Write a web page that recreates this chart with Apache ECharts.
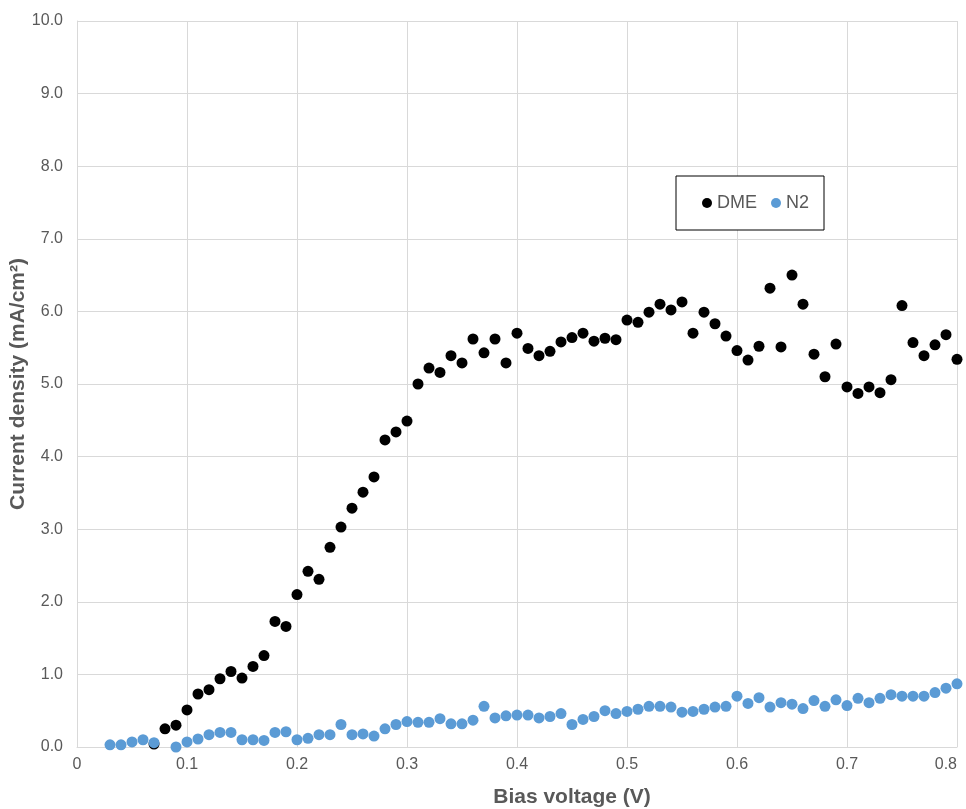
<!DOCTYPE html>
<html>
<head>
<meta charset="utf-8">
<script src="https://cdn.jsdelivr.net/npm/echarts@6/dist/echarts.min.js"></script>
<style>
  html, body { margin: 0; padding: 0; background: #fff; }
  #chart { width: 966px; height: 809px; }
</style>
</head>
<body>
<div id="chart"></div>
<script>
// Bias voltage (V) for each measurement
const voltageDME = [0.07, 0.08, 0.09, 0.10, 0.11, 0.12, 0.13, 0.14, 0.15, 0.16, 0.17, 0.18, 0.19,
  0.20, 0.21, 0.22, 0.23, 0.24, 0.25, 0.26, 0.27, 0.28, 0.29, 0.30, 0.31, 0.32, 0.33, 0.34, 0.35,
  0.36, 0.37, 0.38, 0.39, 0.40, 0.41, 0.42, 0.43, 0.44, 0.45, 0.46, 0.47, 0.48, 0.49, 0.50, 0.51,
  0.52, 0.53, 0.54, 0.55, 0.56, 0.57, 0.58, 0.59, 0.60, 0.61, 0.62, 0.63, 0.64, 0.65, 0.66, 0.67,
  0.68, 0.69, 0.70, 0.71, 0.72, 0.73, 0.74, 0.75, 0.76, 0.77, 0.78, 0.79, 0.80];
// Current density (mA/cm²) with DME
const currentDME = [0.04, 0.25, 0.30, 0.51, 0.73, 0.79, 0.94, 1.04, 0.95, 1.11, 1.26, 1.73, 1.66,
  2.10, 2.42, 2.31, 2.75, 3.03, 3.29, 3.51, 3.72, 4.23, 4.34, 4.49, 5.00, 5.22, 5.16, 5.39, 5.29,
  5.62, 5.43, 5.62, 5.29, 5.70, 5.49, 5.39, 5.45, 5.58, 5.64, 5.70, 5.59, 5.63, 5.61, 5.88, 5.85,
  5.99, 6.10, 6.02, 6.13, 5.70, 5.99, 5.83, 5.66, 5.46, 5.33, 5.52, 6.32, 5.51, 6.50, 6.10, 5.41,
  5.10, 5.55, 4.96, 4.87, 4.96, 4.88, 5.06, 6.08, 5.57, 5.39, 5.54, 5.68, 5.34];

const voltageN2 = [0.03, 0.04, 0.05, 0.06, 0.07, 0.09, 0.10, 0.11, 0.12, 0.13, 0.14, 0.15, 0.16,
  0.17, 0.18, 0.19, 0.20, 0.21, 0.22, 0.23, 0.24, 0.25, 0.26, 0.27, 0.28, 0.29, 0.30, 0.31, 0.32,
  0.33, 0.34, 0.35, 0.36, 0.37, 0.38, 0.39, 0.40, 0.41, 0.42, 0.43, 0.44, 0.45, 0.46, 0.47, 0.48,
  0.49, 0.50, 0.51, 0.52, 0.53, 0.54, 0.55, 0.56, 0.57, 0.58, 0.59, 0.60, 0.61, 0.62, 0.63, 0.64,
  0.65, 0.66, 0.67, 0.68, 0.69, 0.70, 0.71, 0.72, 0.73, 0.74, 0.75, 0.76, 0.77, 0.78, 0.79, 0.80];
// Current density (mA/cm²) with N2
const currentN2 = [0.03, 0.03, 0.07, 0.10, 0.06, 0.00, 0.07, 0.11, 0.17, 0.20, 0.20, 0.10, 0.10,
  0.09, 0.20, 0.21, 0.10, 0.12, 0.17, 0.17, 0.31, 0.17, 0.18, 0.15, 0.25, 0.31, 0.35, 0.34, 0.34,
  0.39, 0.32, 0.32, 0.37, 0.56, 0.40, 0.43, 0.44, 0.44, 0.40, 0.42, 0.46, 0.31, 0.38, 0.42, 0.50,
  0.46, 0.49, 0.52, 0.56, 0.56, 0.55, 0.48, 0.49, 0.52, 0.55, 0.56, 0.70, 0.60, 0.68, 0.55, 0.61,
  0.59, 0.53, 0.64, 0.56, 0.65, 0.57, 0.67, 0.61, 0.67, 0.72, 0.70, 0.70, 0.70, 0.75, 0.81, 0.87];

const seriesNames = ['DME', 'N2'];
const xTitle = 'Bias voltage (V)';
const yTitle = 'Current density (mA/cm²)';

const pairs = (xs, ys) => xs.map((x, i) => [x, ys[i]]);

const textGrey = '#595959';
const gridGrey = '#d9d9d9';
const mainFont = '"Liberation Sans", Arial, sans-serif';

const chart = echarts.init(document.getElementById('chart'));
chart.setOption({
  animation: false,
  backgroundColor: '#ffffff',
  textStyle: { fontFamily: mainFont },
  grid: { left: 77, right: 9, top: 21, bottom: 62, containLabel: false, outerBoundsMode: 'none' },
  legend: {
    data: seriesNames,
    left: 676,
    top: 176,
    orient: 'horizontal',
    icon: 'circle',
    itemWidth: 10,
    itemHeight: 10,
    itemGap: 14,
    padding: [18, 15, 18, 26],
    backgroundColor: '#ffffff',
    borderColor: '#000000',
    borderWidth: 1,
    textStyle: { color: textGrey, fontSize: 18, fontFamily: mainFont }
  },
  xAxis: {
    type: 'value',
    min: 0,
    max: 0.8,
    interval: 0.1,
    name: xTitle,
    nameLocation: 'middle',
    nameGap: 40,
    nameMoveOverlap: false,
    nameTextStyle: {
      color: textGrey, fontSize: 21, fontWeight: 'bold', fontFamily: mainFont,
      padding: [0, 0, 0, 110]
    },
    axisLine: { show: true, lineStyle: { color: gridGrey, width: 1 } },
    axisTick: { show: false },
    axisLabel: {
      color: textGrey, fontSize: 16, fontFamily: mainFont, margin: 10,
      alignMaxLabel: 'right',
      formatter: v => (v === 0 ? '0' : String(+v.toFixed(1)))
    },
    splitLine: { show: true, lineStyle: { color: gridGrey, width: 1 } }
  },
  yAxis: {
    type: 'value',
    min: 0,
    max: 10,
    interval: 1,
    name: yTitle,
    nameLocation: 'middle',
    nameGap: 48,
    nameRotate: 90,
    nameMoveOverlap: false,
    nameTextStyle: { color: textGrey, fontSize: 21, fontWeight: 'bold', fontFamily: mainFont },
    axisLine: { show: true, lineStyle: { color: gridGrey, width: 1 } },
    axisTick: { show: false },
    axisLabel: {
      color: textGrey, fontSize: 16, fontFamily: mainFont, margin: 14,
      formatter: v => v.toFixed(1)
    },
    splitLine: { show: true, lineStyle: { color: gridGrey, width: 1 } }
  },
  series: [
    {
      name: seriesNames[0],
      type: 'scatter',
      symbol: 'circle',
      symbolSize: 11,
      itemStyle: { color: '#000000', opacity: 1 },
      data: pairs(voltageDME, currentDME)
    },
    {
      name: seriesNames[1],
      type: 'scatter',
      symbol: 'circle',
      symbolSize: 11,
      itemStyle: { color: '#5b9bd5', opacity: 1 },
      data: pairs(voltageN2, currentN2)
    }
  ]
});
</script>
</body>
</html>
